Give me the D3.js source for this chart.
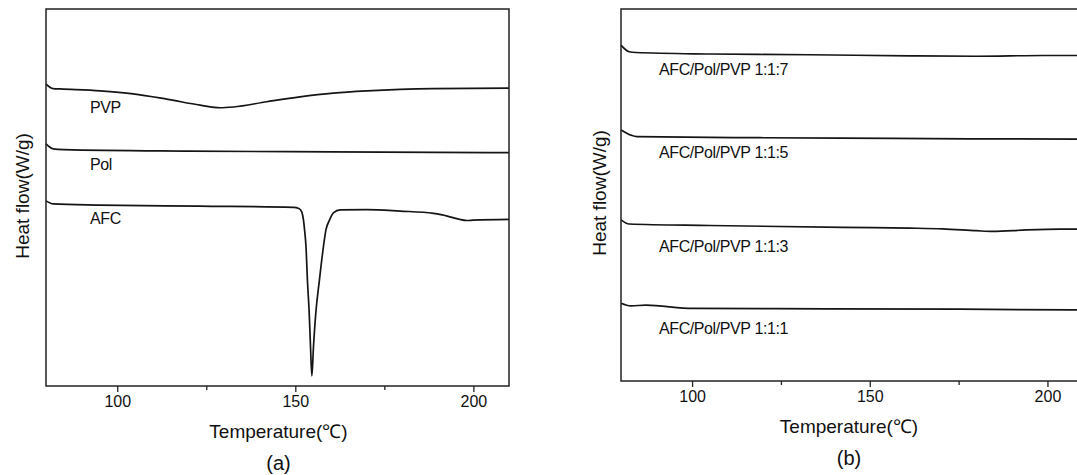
<!DOCTYPE html>
<html>
<head>
<meta charset="utf-8">
<script src="https://cdn.jsdelivr.net/npm/d3@7"></script>
<style>
  html, body { margin: 0; padding: 0; background: #fff; }
  svg { display: block; font-family: "Liberation Sans", Arial, sans-serif; }
</style>
</head>
<body>
<svg id="chart" width="1077" height="475"></svg>
<script>
// ---- data (temperature in °C, heat flow in arbitrary units) ----
var tickValues = [100, 150, 200];
var minorTicks = [125, 175];

// panel (a)
var namesA = ['PVP', 'Pol', 'AFC'];
var pvpT = [80, 82, 84, 95.2, 104.5, 113.9, 123.3, 128.9, 132.6, 142, 151.3, 160.7, 170.1, 179.4, 188.8, 210];
var pvpV = [8.01, 7.89, 7.88, 7.83, 7.75, 7.61, 7.45, 7.38, 7.40, 7.54, 7.67, 7.77, 7.83, 7.87, 7.89, 7.90];
var polT = [80, 82, 85, 120, 160, 210];
var polV = [6.42, 6.29, 6.27, 6.23, 6.21, 6.19];
var afcT = [80, 82, 95, 123, 149.5, 151, 151.8, 152.3, 152.6, 153.0, 153.4, 153.9, 154.27, 154.65,
            155.1, 155.76, 156.77, 157.9, 158.6, 159.6, 160.7, 162.6, 170.1, 179.4, 188.8, 191.3, 198.2, 200, 210];
var afcV = [4.91, 4.83, 4.80, 4.77, 4.74, 4.71, 4.62, 4.40, 4.14, 3.70, 2.81, 1.94, 1.04, 0.27,
            1.04, 1.94, 2.81, 3.70, 4.14, 4.40, 4.59, 4.67, 4.68, 4.64, 4.58, 4.54, 4.39, 4.40, 4.42];

// panel (b)
var namesB = ['AFC/Pol/PVP 1:1:7', 'AFC/Pol/PVP 1:1:5', 'AFC/Pol/PVP 1:1:3', 'AFC/Pol/PVP 1:1:1'];
var r117T = [80, 82.3, 84.2, 104.9, 133, 161.2, 180, 198.7, 210];
var r117V = [9.03, 8.85, 8.83, 8.79, 8.77, 8.74, 8.73, 8.75, 8.75];
var r115T = [80, 82.8, 84.5, 119, 156.6, 210];
var r115V = [6.75, 6.61, 6.57, 6.54, 6.52, 6.50];
var r113T = [80, 82.3, 104.9, 142.4, 161.2, 170.5, 180, 184.6, 194.1, 203.5, 210];
var r113V = [4.33, 4.22, 4.18, 4.13, 4.11, 4.09, 4.04, 4.02, 4.06, 4.08, 4.08];
var r111T = [80, 82.8, 87.0, 100.2, 137.7, 175.3, 210];
var r111V = [2.09, 2.02, 2.04, 1.95, 1.94, 1.93, 1.91];

function zip(ts, vs) {
  return ts.map(function (t, i) { return { t: t, v: vs[i] }; });
}

var svg = d3.select('#chart');

function drawPanel(opt) {
  var x = d3.scaleLinear().domain([80, 210]).range([opt.left, opt.right]);
  var y = d3.scaleLinear().domain([0, 10]).range([opt.bottom, opt.top]);
  var g = svg.append('g');

  // curves
  var line = d3.line()
    .x(function (d) { return x(d.t); })
    .y(function (d) { return y(d.v); })
    .curve(d3.curveMonotoneX);
  opt.series.forEach(function (s, i) {
    g.append('path')
      .datum(s)
      .attr('d', line)
      .attr('fill', 'none')
      .attr('stroke', '#151515')
      .attr('stroke-width', 1.7);
    // label under the start of each curve
    var y0 = y(s[0].v);
    var yAt = y(s[Math.min(3, s.length - 1)].v);
    g.append('text')
      .attr('x', opt.left + opt.labelDx)
      .attr('y', (y0 + yAt) / 2 + opt.labelDy[i])
      .attr('font-size', '16px')
      .attr('letter-spacing', '-0.4px')
      .attr('fill', '#111')
      .text(opt.names[i]);
  });

  // frame
  g.append('rect')
    .attr('x', opt.left).attr('y', opt.top)
    .attr('width', opt.right - opt.left).attr('height', opt.bottom - opt.top)
    .attr('fill', 'none').attr('stroke', '#222').attr('stroke-width', 1.5);

  // x axis
  var ax = g.append('g')
    .attr('transform', 'translate(0,' + opt.bottom + ')')
    .call(d3.axisBottom(x).tickValues(tickValues).tickSize(6).tickPadding(4).tickSizeOuter(0));
  ax.select('.domain').remove();
  ax.selectAll('line').attr('stroke', '#222').attr('stroke-width', 1.3);
  ax.selectAll('text').attr('font-size', '16px').attr('fill', '#111')
    .attr('font-family', '"Liberation Sans", Arial, sans-serif');
  var mx = g.append('g')
    .attr('transform', 'translate(0,' + opt.bottom + ')')
    .call(d3.axisBottom(x).tickValues(minorTicks).tickSize(4).tickFormat('').tickSizeOuter(0));
  mx.select('.domain').remove();
  mx.selectAll('line').attr('stroke', '#222').attr('stroke-width', 1.3);

  var cx = (opt.left + opt.right) / 2 + opt.titleDx;
  g.append('text')
    .attr('x', cx).attr('y', opt.bottom + opt.titleDy)
    .attr('text-anchor', 'middle')
    .attr('font-size', '19px').attr('fill', '#111')
    .text('Temperature(℃)');
  g.append('text')
    .attr('x', cx).attr('y', opt.bottom + opt.titleDy + 32)
    .attr('text-anchor', 'middle')
    .attr('font-size', '20px').attr('fill', '#111')
    .text(opt.tag);

  // y axis title
  g.append('text')
    .attr('transform', 'translate(' + opt.yLabelX + ',' + opt.yLabelY + ') rotate(-90)')
    .attr('text-anchor', 'middle')
    .attr('dominant-baseline', 'central')
    .attr('font-size', '19px').attr('fill', '#111')
    .text('Heat flow(W/g)');
}

drawPanel({
  left: 46, right: 509, top: 9, bottom: 386,
  names: namesA,
  series: [zip(pvpT, pvpV), zip(polT, polV), zip(afcT, afcV)],
  labelDx: 44, labelDy: [26, 22, 20],
  titleDx: 1, titleDy: 52, tag: '(a)',
  yLabelX: 22, yLabelY: 196
});

drawPanel({
  left: 621, right: 1083, top: 9, bottom: 381,
  names: namesB,
  series: [zip(r117T, r117V), zip(r115T, r115V), zip(r113T, r113V), zip(r111T, r111V)],
  labelDx: 38, labelDy: [25, 24, 28, 28],
  titleDx: -3, titleDy: 52, tag: '(b)',
  yLabelX: 599, yLabelY: 193
});
</script>
</body>
</html>
